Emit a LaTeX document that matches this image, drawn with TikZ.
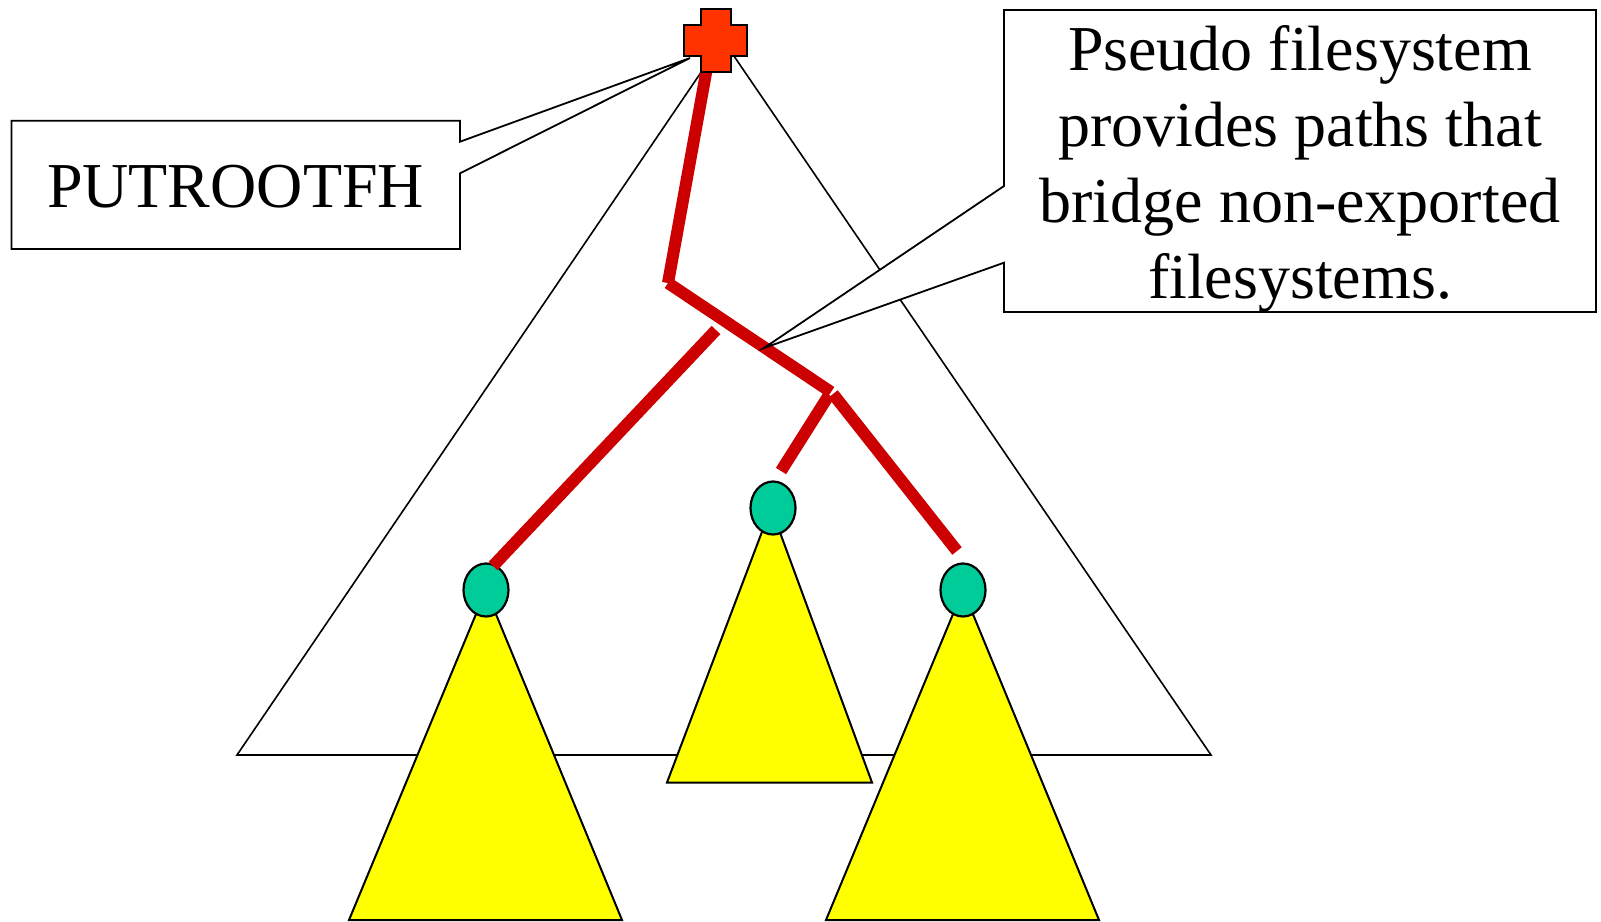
\documentclass[tikz,border=0pt]{standalone}
\usepackage{fontspec}
\setmainfont{Liberation Serif}
\usetikzlibrary{shapes.geometric}
\definecolor{pathred}{HTML}{CC0000}
\definecolor{crossred}{HTML}{FF3300}
\definecolor{mountgreen}{HTML}{00CC99}
\definecolor{fsyellow}{HTML}{FFFF00}
\begin{document}
\begin{tikzpicture}[x=1pt,y=-1pt,
  outline/.style={draw=black,line width=1.6pt,line join=miter},
  subtree/.style={outline,fill=fsyellow,line width=2pt},
  mountpt/.style={ellipse,draw=black,line width=2.2pt,fill=mountgreen,
    minimum width=45pt,minimum height=53pt,inner sep=0pt},
  bridge/.style={draw=pathred,line width=12pt,line cap=butt},
  callout/.style={draw=black,line width=1.8pt,fill=white,line join=miter},
  label/.style={inner sep=0pt,align=center,font=\fontsize{64}{76}\selectfont}]
\useasboundingbox (0,0) rectangle (1601,921);

% exported namespace as a whole
\draw[outline] (723,40) -- (237,755) -- (1211,755) -- cycle;

% exported filesystems hanging below their mount points
\draw[subtree] (486,590) -- (349,920) -- (622,920) -- cycle;
\draw[subtree] (771,508) -- (667,782.5) -- (872,782.5) -- cycle;
\draw[subtree] (963,590) -- (826,920) -- (1099,920) -- cycle;

\node[mountpt] (mleft) at (486,590) {};
\node[mountpt] (mmid) at (773,508) {};
\node[mountpt] (mright) at (963,590) {};

% pseudo filesystem paths
\coordinate (root) at (712,40);
\coordinate (bend) at (668,283);
\coordinate (fork) at (831,392);
\coordinate (forkR) at (833,394);
\coordinate (forkM) at (829,395);
\coordinate (endR) at (957,551);
\coordinate (endM) at (781,471);
\coordinate (startL) at (716,330);
\coordinate (endL) at (493,566);
\draw[bridge] (root) -- (bend);
\draw[bridge] (bend) -- (fork);
\draw[bridge] (forkR) -- (endR);
\draw[bridge] (forkM) -- (endM);
\draw[bridge] (startL) -- (endL);

% root file handle marker
\draw[draw=black,line width=2.5pt,fill=crossred,line join=miter]
  (701,9) -- (731,9) -- (731,25) -- (747,25) -- (747,56) -- (731,56)
  -- (731,72) -- (701,72) -- (701,56) -- (684,56) -- (684,25) -- (701,25) -- cycle;
\coordinate (rootTip) at (690,58);
\coordinate (pathTip) at (764,348);

% callouts
\draw[callout] (11.5,120.7) -- (460,120.7) -- (460,141.7) -- (rootTip)
  -- (460,173.3) -- (460,249) -- (11.5,249) -- cycle;
\draw[callout] (1004,10) -- (1596,10) -- (1596,312) -- (1004,312)
  -- (1004,262.7) -- (pathTip) -- (1004,186) -- cycle;

\node[label] (putroot) at (235.5,187) {PUTROOTFH};
\node[label] (pseudo) at (1300,168.5) {Pseudo filesystem\\provides paths that\\bridge non-exported\\filesystems.};
\end{tikzpicture}
\end{document}
